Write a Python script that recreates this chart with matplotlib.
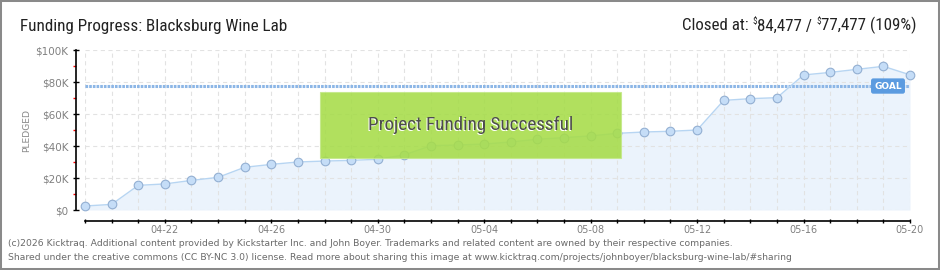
import matplotlib
matplotlib.use("Agg")
import matplotlib.pyplot as plt
import matplotlib.dates as mdates
import matplotlib.transforms as mtransforms
from matplotlib.patches import Rectangle
from matplotlib.ticker import FixedLocator, FuncFormatter
from matplotlib import font_manager
import pandas as pd

# ---------------- data ----------------
start_date = "2026-04-19"
pledged = [2500, 3500, 15400, 16300, 18500, 20400, 26700, 28500, 30000, 30600,
           31000, 31700, 34400, 40200, 40600, 41200, 42500, 44200, 45200, 46300,
           47900, 48750, 49200, 50000, 68500, 69600, 70200, 84400, 86000, 87900,
           89800, 84477]
goal = 77477
x_tick_labels = ["04-22", "04-26", "04-30", "05-04", "05-08", "05-12", "05-16", "05-20"]
y_ticks = [0, 20000, 40000, 60000, 80000, 100000]
y_tick_labels = ["$0", "$20K", "$40K", "$60K", "$80K", "$100K"]
y_minor_ticks = [10000, 30000, 50000, 70000, 90000]
title = "Funding Progress: Blacksburg Wine Lab"
header_parts = ["Closed at: ", "$", "84,477 / ", "$", "77,477 (109%)"]
banner = "Project Funding Successful"
footer1 = ("(c)2026 Kicktraq. Additional content provided by Kickstarter Inc. and John Boyer. "
           "Trademarks and related content are owned by their respective companies.")
footer2 = ("Shared under the creative commons (CC BY-NC 3.0) license. Read more about sharing "
           "this image at www.kicktraq.com/projects/johnboyer/blacksburg-wine-lab/#sharing")

dates = pd.date_range(start_date, periods=len(pledged), freq="D")
label_dates = [pd.Timestamp(f"2026-{s}") for s in x_tick_labels]

# ---------------- fonts ----------------
avail = {f.name for f in font_manager.fontManager.ttflist}
def pick(*names):
    for n in names:
        if n in avail:
            return n
    return "DejaVu Sans"
COND = pick("Liberation Sans Narrow", "Roboto Condensed", "Open Sans Condensed", "Liberation Sans")
PIX = "DejaVu Sans"

plt.rcParams["lines.scale_dashes"] = False

W, H = 940, 270
fig = plt.figure(figsize=(W / 100, H / 100), dpi=100)
fig.patch.set_facecolor("white")

L, R, T, B = 85, 910, 50, 210
ax = fig.add_axes([L / W, (H - B) / H, (R - L) / W, (B - T) / H])
ax.set_facecolor("none")

ax.fill_between(dates, pledged, 0, color="#ebf3fc", lw=0, zorder=1)
ax.plot(dates, pledged, color="#b7d5f2", lw=1.0, marker="o", ms=6.2,
        mfc="#c5ddf7", mec="#93afd2", mew=0.8, zorder=4, clip_on=False)

ax.axhline(goal, color="#8cb6e6", lw=2.2, dashes=(1.9, 0.75), zorder=3)

ax.set_xlim(dates[0], dates[-1])
ax.set_ylim(0, 100000)

ax.xaxis.set_minor_locator(mdates.DayLocator())
ax.xaxis.set_major_locator(FixedLocator(mdates.date2num(label_dates)))
ax.xaxis.set_major_formatter(FuncFormatter(lambda v, p: mdates.num2date(v).strftime("%m-%d")))
ax.yaxis.set_major_locator(FixedLocator(y_ticks))
ax.yaxis.set_major_formatter(FuncFormatter(
    lambda v, p: y_tick_labels[y_ticks.index(int(round(v)))] if int(round(v)) in y_ticks else ""))
ax.yaxis.set_minor_locator(FixedLocator(y_minor_ticks))

# dashed grid
for d in dates:
    ax.axvline(d, color="#e2e2e2", lw=0.8, dashes=(3, 2.5), zorder=2)
for yv in y_ticks:
    ax.axhline(yv, color="#e2e2e2", lw=0.8, dashes=(3, 2.5), zorder=2)

for s in ["top", "right"]:
    ax.spines[s].set_visible(False)
ax.spines["left"].set_position(("outward", 6.5))
ax.spines["bottom"].set_position(("outward", 7.6))
ax.spines["left"].set_bounds(0, 100000)
ax.spines["left"].set_linewidth(1.2)
ax.spines["bottom"].set_linewidth(1.2)

ax.tick_params(axis="x", which="both", direction="inout", length=3.2, width=1,
               color="black", labelcolor="#808080", labelsize=7, pad=1.8)
ax.tick_params(axis="y", which="major", direction="inout", length=4.2, width=1,
               color="black", labelcolor="#808080", labelsize=7.5, pad=3.4)
ax.tick_params(axis="y", which="minor", direction="out", length=2.2, width=1,
               color="#ff0000")
for t in ax.get_xticklabels() + ax.get_yticklabels():
    t.set_family(PIX)

# GOAL badge
ax.text(888, goal, "GOAL",
        transform=mtransforms.blended_transform_factory(mtransforms.IdentityTransform(), ax.transData),
        ha="center", va="center", color="white", fontsize=6.5, fontweight="bold",
        family=PIX, zorder=6,
        bbox=dict(boxstyle="round,pad=0.35,rounding_size=0.25", fc="#5b9be0", ec="none"))

# PLEDGED label
fig.text(27 / W, (H - 130) / H, "PLEDGED", rotation=90, ha="center", va="center",
         color="#8a8a8a", fontsize=6.6, family=PIX)

renderer = fig.canvas.get_renderer()

def fit(t, target):
    w = t.get_window_extent(renderer).width
    t.set_fontsize(t.get_fontsize() * target / w)

# Title
tt = fig.text(20 / W, (H - 30.5) / H, title, ha="left", va="baseline",
              fontsize=12.5, color="#222222", family=COND)
fit(tt, 268)

# Header (right) composed from pieces with superscript $
base_fs = 12.5
pieces = []
for p in header_parts:
    fs = base_fs * (0.55 if p == "$" else 1.0)
    pieces.append(fig.text(0, 0, p, fontsize=fs, family=COND, color="#222222"))
total = sum(t.get_window_extent(renderer).width for t in pieces)
scale = 236 / total
x = 918 - 236
for t, p in zip(pieces, header_parts):
    t.set_fontsize(t.get_fontsize() * scale)
    w = t.get_window_extent(renderer).width
    yb = 30.5 - (6 if p == "$" else 0)
    t.set_position((x / W, (H - yb) / H))
    t.set_va("baseline")
    x += w

# Green banner
bx0, bx1, by0, by1 = 320, 621, 92, 158
fig.add_artist(Rectangle((bx0 / W, (H - by1) / H), (bx1 - bx0) / W, (by1 - by0) / H,
                         transform=fig.transFigure, facecolor="#a6dc48", alpha=0.88,
                         edgecolor="#c4e98a", lw=0.8, zorder=5))
cx, cy = (bx0 + bx1) / 2, (by0 + by1) / 2
sh = fig.text((cx - 1) / W, (H - cy - 1) / H, banner, ha="center", va="center",
              fontsize=14, color="white", family=COND, zorder=6)
bt = fig.text(cx / W, (H - cy) / H, banner, ha="center", va="center",
              fontsize=14, color="#4d4d4d", family=COND, zorder=7)
fit(bt, 207)
sh.set_fontsize(bt.get_fontsize())

# Footer
f1 = fig.text(8 / W, (H - 246) / H, footer1, ha="left", va="baseline",
              fontsize=6.3, color="#6a6a6a", family=PIX)
fit(f1, 723)
f2 = fig.text(8 / W, (H - 259.5) / H, footer2, ha="left", va="baseline",
              fontsize=f1.get_fontsize(), color="#6a6a6a", family=PIX)

# Border
fig.add_artist(Rectangle((0, 0), 1, 1, transform=fig.transFigure, fill=False,
                         edgecolor="#8a8a8a", lw=2.9, zorder=10))

fig.savefig("out.png", dpi=100)
